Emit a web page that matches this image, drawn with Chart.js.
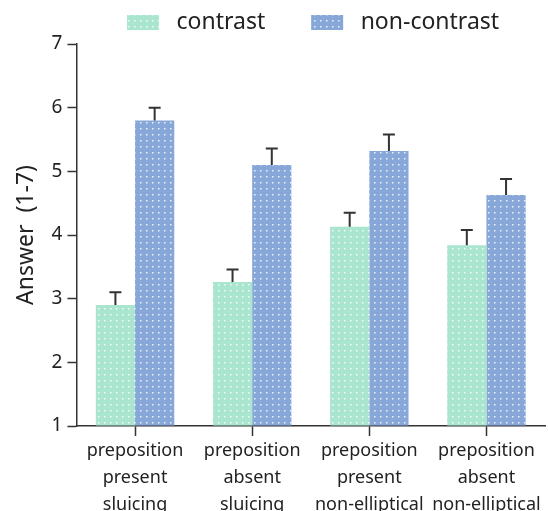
<!DOCTYPE html>
<html>
<head>
<meta charset="utf-8">
<script src="https://cdn.jsdelivr.net/npm/chart.js@4/dist/chart.umd.min.js"></script>
<style>
  html, body { margin: 0; padding: 0; background: #fff; }
  #wrap { width: 548px; height: 511px; }
</style>
</head>
<body>
<div id="wrap"><canvas id="chart"></canvas></div>
<script>
var categories = [
  ['preposition', 'present', 'sluicing'],
  ['preposition', 'absent', 'sluicing'],
  ['preposition', 'present', 'non-elliptical'],
  ['preposition', 'absent', 'non-elliptical']
];
var contrastMeans = [2.90, 3.26, 4.13, 3.84];
var contrastErr = [0.20, 0.20, 0.22, 0.24];
var nonContrastMeans = [5.80, 5.10, 5.32, 4.63];
var nonContrastErr = [0.20, 0.26, 0.26, 0.25];
var yTicks = [1, 2, 3, 4, 5, 6, 7];

function dotPattern(color){
  var c = document.createElement('canvas');
  c.width = 6; c.height = 6;
  var g = c.getContext('2d');
  g.fillStyle = color;
  g.fillRect(0, 0, 6, 6);
  g.fillStyle = 'rgba(255,255,255,0.85)';
  g.fillRect(2, 2, 1.5, 1.5);
  return g.createPattern(c, 'repeat');
}

var errorBars = {
  id: 'errorBars',
  afterDatasetsDraw: function(chart){
    var ctx = chart.ctx;
    var y = chart.scales.y;
    ctx.save();
    ctx.strokeStyle = '#333';
    ctx.lineWidth = 2;
    chart.data.datasets.forEach(function(ds, i){
      var meta = chart.getDatasetMeta(i);
      meta.data.forEach(function(bar, j){
        var top = y.getPixelForValue(ds.data[j] + ds.errors[j]);
        ctx.beginPath();
        ctx.moveTo(bar.x, bar.y);
        ctx.lineTo(bar.x, top);
        ctx.moveTo(bar.x - 6, top);
        ctx.lineTo(bar.x + 6, top);
        ctx.stroke();
      });
    });
    ctx.restore();
  }
};

var font = 'Noto Sans';
var nb = '\u00a0';

new Chart(document.getElementById('chart'), {
  type: 'bar',
  data: {
    labels: categories,
    datasets: [
      {
        label: 'contrast',
        data: contrastMeans,
        errors: contrastErr,
        backgroundColor: dotPattern('#a9e5cf'),
        base: 1,
        categoryPercentage: 0.67,
        barPercentage: 1.0
      },
      {
        label: 'non-contrast',
        data: nonContrastMeans,
        errors: nonContrastErr,
        backgroundColor: dotPattern('#87a7d9'),
        base: 1,
        categoryPercentage: 0.67,
        barPercentage: 1.0
      }
    ]
  },
  options: {
    responsive: true,
    maintainAspectRatio: false,
    animation: false,
    layout: { padding: { top: 1, right: 3, left: 13, bottom: -8 } },
    plugins: {
      legend: {
        position: 'top',
        align: 'end',
        labels: {
          boxWidth: 32,
          boxHeight: 15,
          padding: 10,
          color: '#222',
          font: { family: font, size: 23 },
          generateLabels: function(chart){
            var items = Chart.defaults.plugins.legend.labels.generateLabels(chart);
            items.forEach(function(it, i){
              it.text = nb + it.text + nb.repeat(6);
              it.lineWidth = 0;
            });
            return items;
          }
        }
      },
      tooltip: { enabled: false }
    },
    scales: {
      x: {
        grid: {
          offset: false,
          drawOnChartArea: false,
          drawTicks: true,
          tickLength: 10,
          tickWidth: 1.5,
          tickColor: '#333'
        },
        border: { color: '#333', width: 1.5 },
        ticks: {
          color: '#222',
          maxRotation: 0,
          autoSkip: false,
          padding: 1,
          font: { family: font, size: 18, lineHeight: 1.5 }
        }
      },
      y: {
        min: 1,
        max: 7,
        afterBuildTicks: function(axis){
          axis.ticks = yTicks.map(function(v){ return { value: v }; });
        },
        grid: {
          drawOnChartArea: false,
          drawTicks: true,
          tickLength: 9,
          tickWidth: 1.5,
          tickColor: '#333'
        },
        border: { color: '#333', width: 1.5 },
        ticks: {
          color: '#222',
          padding: 5,
          font: { family: font, size: 19 }
        },
        title: {
          display: true,
          text: 'Answer' + nb + nb + '(1-7)',
          color: '#222',
          padding: { top: 0, bottom: 6 },
          font: { family: font, size: 23 }
        }
      }
    }
  },
  plugins: [errorBars]
});
</script>
</body>
</html>
